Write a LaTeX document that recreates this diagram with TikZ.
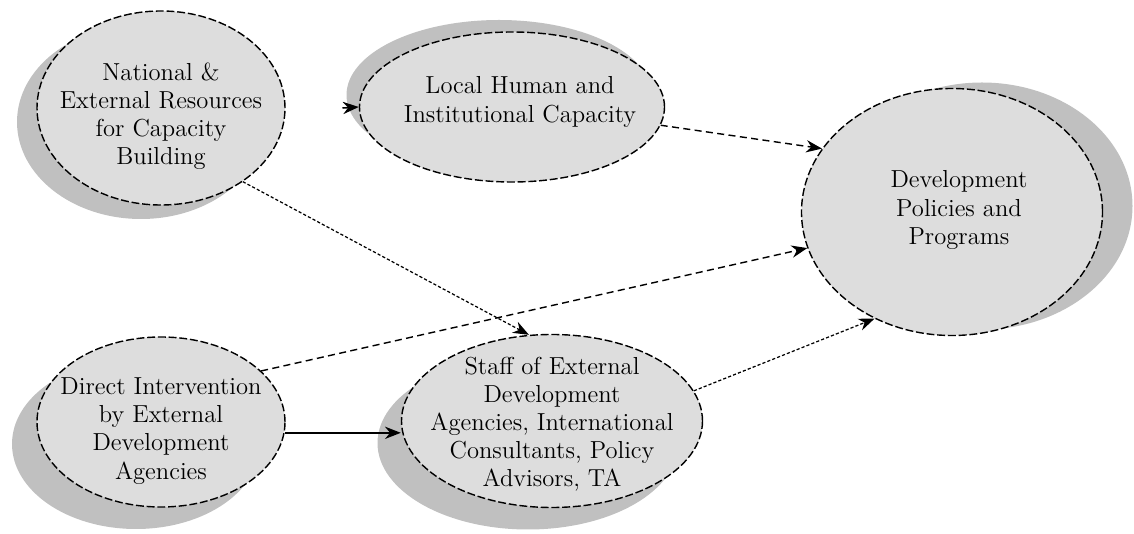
\documentclass[tikz,border=0pt]{standalone}
\usepackage{xcolor}
\usepackage{tikz}
\definecolor{bubbleGray}{RGB}{221, 221, 221}
\definecolor{shadowGray}{RGB}{192, 192, 192}
\usetikzlibrary{shapes.geometric, arrows.meta, positioning, shadows}

\tikzset{
    bubble/.style={
        ellipse,
        draw=black,
        dashed,
        dash pattern=on 4.5pt off 1.6pt,
        line width=0.8pt,
        fill=bubbleGray,
        inner sep=0pt
    },
    bubbletext/.style={
        align=center,
        font=\fontsize{14}{16}\selectfont
    },
    flow/.style={
        -{Stealth[length=9pt, width=7pt]},
        line width=0.8pt,
        dash pattern=on 4pt off 2.5pt
    },
    fineflow/.style={
        -{Stealth[length=9pt, width=7pt]},
        line width=0.7pt,
        dash pattern=on 1.8pt off 1.2pt
    },
    solidflow/.style={
        -{Stealth[length=9pt, width=7pt]},
        line width=0.9pt
    }
}

\begin{document}
\begin{tikzpicture}
    \useasboundingbox (0,0) rectangle (22.68,10.68);

    % bubbles
    \node[bubble, minimum width=4.96cm, minimum height=3.88cm,
        drop shadow={shadow xshift=-0.4cm, shadow yshift=-0.28cm, fill=shadowGray, opacity=1}]
        (nat) at (3.22,8.52) {};
    \node[bubble, minimum width=6.1cm, minimum height=3.0cm,
        drop shadow={shadow xshift=-0.26cm, shadow yshift=0.24cm, fill=shadowGray, opacity=1}]
        (lhc) at (10.24,8.54) {};
    \node[bubble, minimum width=6.02cm, minimum height=4.94cm,
        drop shadow={shadow xshift=0.6cm, shadow yshift=0.12cm, fill=shadowGray, opacity=1}]
        (dpp) at (19.04,6.44) {};
    \node[bubble, minimum width=4.96cm, minimum height=3.4cm,
        drop shadow={shadow xshift=-0.5cm, shadow yshift=-0.44cm, fill=shadowGray, opacity=1}]
        (dir) at (3.22,2.24) {};
    \node[bubble, minimum width=6.02cm, minimum height=3.46cm,
        drop shadow={shadow xshift=-0.48cm, shadow yshift=-0.44cm, fill=shadowGray, opacity=1}]
        (staff) at (11.04,2.26) {};

    % texts
    \node[bubbletext] (nat-t) at (3.22,8.36) {National \&\\External Resources\\for Capacity\\Building};
    \node[bubbletext] (lhc-t) at (10.4,8.64) {Local Human and\\Institutional Capacity};
    \node[bubbletext] (dpp-t) at (19.18,6.48) {Development\\Policies and\\Programs};
    \node[bubbletext] (dir-t) at (3.22,2.06) {Direct Intervention\\by External\\Development\\Agencies};
    \node[bubbletext] (staff-t) at (11.04,2.2) {Staff of External\\Development\\Agencies, International\\Consultants, Policy\\Advisors, TA};

    % connectors
    \coordinate (stub) at (6.85,8.52);
    \draw[solidflow] (stub) -- (lhc.west);
    \draw[fineflow] (nat.-42) -- (staff.105);
    \draw[flow] (lhc.-7) -- (dpp.154);
    \draw[flow] (dir.27) -- (dpp.194);
    \draw[solidflow] (dir.-5) -- (dir.-5 -| staff.west);
    \draw[fineflow] (staff.12) -- (dpp.234);
\end{tikzpicture}
\end{document}
